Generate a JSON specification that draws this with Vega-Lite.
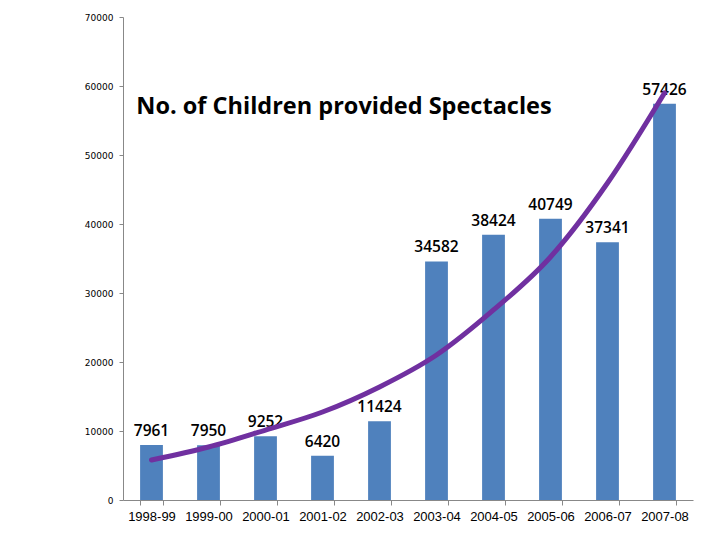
{
  "$schema": "https://vega.github.io/schema/vega-lite/v6.json",
  "width": 570,
  "height": 483,
  "autosize": {"type": "none"},
  "padding": {"left": 123, "top": 17, "right": 27, "bottom": 40},
  "background": "white",
  "config": {"view": {"stroke": null}},
  "title": {
    "text": "No. of Children provided Spectacles",
    "orient": "top",
    "anchor": "middle",
    "offset": -124,
    "baseline": "alphabetic",
    "dx": -64,
    "font": "Open Sans",
    "fontSize": 23.5,
    "fontWeight": "bold",
    "color": "black"
  },
  "datasets": {
    "bars": [
      {"year": "1998-99", "children": 7961},
      {"year": "1999-00", "children": 7950},
      {"year": "2000-01", "children": 9252},
      {"year": "2001-02", "children": 6420},
      {"year": "2002-03", "children": 11424},
      {"year": "2003-04", "children": 34582},
      {"year": "2004-05", "children": 38424},
      {"year": "2005-06", "children": 40749},
      {"year": "2006-07", "children": 37341},
      {"year": "2007-08", "children": 57426}
    ],
    "trend": [
      {"i": 1, "trend": 5800},
      {"i": 2, "trend": 7680},
      {"i": 3, "trend": 10140},
      {"i": 4, "trend": 12750},
      {"i": 5, "trend": 16380},
      {"i": 6, "trend": 21010},
      {"i": 7, "trend": 27540},
      {"i": 8, "trend": 35220},
      {"i": 9, "trend": 45940},
      {"i": 10, "trend": 58990}
    ]
  },
  "layer": [
    {
      "data": {"name": "bars"},
      "layer": [
        {
          "mark": {"type": "bar", "color": "#4F81BD"},
          "encoding": {
            "x": {
              "field": "year", "type": "nominal", "sort": null,
              "scale": {"paddingInner": 0.6, "paddingOuter": 0.3},
              "axis": {
                "title": null, "labelAngle": 0, "tickBand": "extent",
                "domainColor": "#888888", "tickColor": "#888888", "tickSize": 5,
                "labelFont": "Liberation Sans", "labelFontSize": 13, "labelColor": "black",
                "labelPadding": 5
              }
            },
            "y": {
              "field": "children", "type": "quantitative",
              "scale": {"domain": [0, 70000], "nice": false},
              "axis": {
                "title": null, "values": [0, 10000, 20000, 30000, 40000, 50000, 60000, 70000],
                "format": "d", "grid": false,
                "domainColor": "#888888", "tickColor": "#888888", "tickSize": 4,
                "labelFont": "DejaVu Sans", "labelFontSize": 9, "labelColor": "black",
                "labelPadding": 6
              }
            }
          }
        },
        {
          "mark": {"type": "text", "font": "Open Sans", "fontSize": 15.5, "fontWeight": 600, "baseline": "alphabetic", "dy": -9, "color": "black"},
          "encoding": {
            "x": {"field": "year", "type": "nominal", "sort": null},
            "y": {"field": "children", "type": "quantitative"},
            "text": {"field": "children", "type": "quantitative", "format": "d"}
          }
        }
      ]
    },
    {
      "data": {"name": "trend"},
      "mark": {"type": "line", "color": "#7030A0", "strokeWidth": 5, "strokeCap": "round", "interpolate": "monotone"},
      "encoding": {
        "x": {"field": "i", "type": "quantitative", "scale": {"domain": [0.5, 10.5], "nice": false, "zero": false}, "axis": null},
        "y": {"field": "trend", "type": "quantitative"}
      }
    }
  ],
  "resolve": {"scale": {"x": "independent"}}
}
